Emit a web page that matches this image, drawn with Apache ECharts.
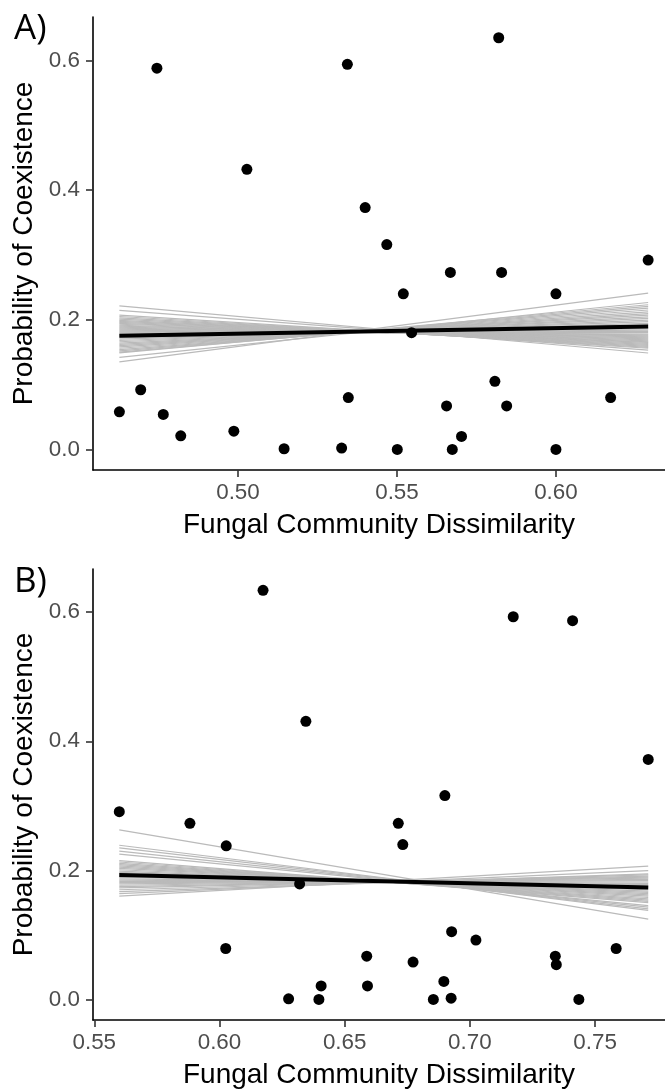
<!DOCTYPE html>
<html>
<head>
<meta charset="utf-8">
<script src="https://cdn.jsdelivr.net/npm/echarts@6/dist/echarts.min.js"></script>
<style>
  html, body { margin: 0; padding: 0; background: #ffffff; }
  #chart { width: 665px; height: 1090px; }
</style>
</head>
<body>
<div id="chart"></div>
<script>
// Panel A: dissimilarity vs probability of coexistence
const dissimA = [0.4627, 0.4694, 0.4745, 0.4765, 0.4820, 0.4987, 0.5028, 0.5145, 0.5326, 0.5344,
                 0.5347, 0.5400, 0.5468, 0.5501, 0.5520, 0.5546, 0.5656, 0.5668, 0.5674, 0.5703,
                 0.5808, 0.5820, 0.5829, 0.5845, 0.6000, 0.6000, 0.6172, 0.6290];
const coexA   = [0.058, 0.092, 0.588, 0.054, 0.021, 0.028, 0.432, 0.001, 0.002, 0.594,
                 0.080, 0.373, 0.316, 0.000, 0.240, 0.180, 0.067, 0.273, 0.000, 0.020,
                 0.105, 0.635, 0.273, 0.067, 0.240, 0.000, 0.080, 0.292];
// posterior draws for panel A: fitted value at the lowest and highest dissimilarity
const drawStartA = [0.2215, 0.2143, 0.2072, 0.2050, 0.2030, 0.2010, 0.1990, 0.1975, 0.1960, 0.1945,
                    0.1930, 0.1915, 0.1900, 0.1885, 0.1870, 0.1855, 0.1840, 0.1825, 0.1810, 0.1795,
                    0.1780, 0.1765, 0.1750, 0.1735, 0.1720, 0.1700, 0.1680, 0.1660, 0.1640, 0.1620,
                    0.1600, 0.1580, 0.1560, 0.1540, 0.1520, 0.1500, 0.1488, 0.1420, 0.1349];
const drawEndA   = [0.1487, 0.1530, 0.1560, 0.1575, 0.1590, 0.1605, 0.1620, 0.1635, 0.1650, 0.1660,
                    0.1675, 0.1690, 0.1705, 0.1720, 0.1735, 0.1750, 0.1765, 0.1780, 0.1800, 0.1820,
                    0.1840, 0.1860, 0.1880, 0.1900, 0.1920, 0.1945, 0.1970, 0.1995, 0.2020, 0.2045,
                    0.2070, 0.2095, 0.2120, 0.2150, 0.2180, 0.2205, 0.2231, 0.2266, 0.2410];
const meanFitA = [0.1754, 0.1897];

// Panel B
const dissimB = [0.5600, 0.5882, 0.6025, 0.6027, 0.6174, 0.6276, 0.6320, 0.6345, 0.6397, 0.6406,
                 0.6588, 0.6591, 0.6714, 0.6732, 0.6773, 0.6854, 0.6896, 0.6900, 0.6925, 0.6927,
                 0.7024, 0.7173, 0.7341, 0.7345, 0.7410, 0.7435, 0.7584, 0.7712];
const coexB   = [0.291, 0.273, 0.079, 0.238, 0.634, 0.001, 0.179, 0.431, 0.000, 0.021,
                 0.067, 0.021, 0.273, 0.240, 0.058, 0.000, 0.028, 0.316, 0.002, 0.105,
                 0.092, 0.593, 0.067, 0.054, 0.587, 0.000, 0.079, 0.372];
const drawStartB = [0.2627, 0.2390, 0.2350, 0.2300, 0.2253, 0.2150, 0.2130, 0.2110, 0.2090, 0.2070,
                    0.2050, 0.2030, 0.2010, 0.1990, 0.1970, 0.1950, 0.1930, 0.1910, 0.1890, 0.1870,
                    0.1850, 0.1830, 0.1810, 0.1790, 0.1770, 0.1750, 0.1730, 0.1700, 0.1670, 0.1640,
                    0.1600];
const drawEndB   = [0.1244, 0.1380, 0.1405, 0.1430, 0.1455, 0.1500, 0.1520, 0.1540, 0.1560, 0.1580,
                    0.1600, 0.1620, 0.1640, 0.1660, 0.1680, 0.1700, 0.1720, 0.1740, 0.1760, 0.1780,
                    0.1800, 0.1820, 0.1840, 0.1860, 0.1880, 0.1895, 0.1910, 0.1930, 0.1946, 0.1997,
                    0.2065];
const meanFitB = [0.1930, 0.1736];

// axis ticks
const ticksXA = [0.50, 0.55, 0.60];
const ticksXB = [0.55, 0.60, 0.65, 0.70, 0.75];
const ticksY  = [0.0, 0.2, 0.4, 0.6];

const FONT = '"Liberation Sans", Helvetica, Arial, sans-serif';
const GRAY = '#bababa';

function xAxisFor(gridIndex, min, max, ticks) {
  return {
    type: 'value', gridIndex, min, max,
    name: 'Fungal Community Dissimilarity',
    nameLocation: 'middle', nameGap: 41,
    nameTextStyle: { color: '#000', fontSize: 28, fontFamily: FONT },
    splitLine: { show: false },
    axisLine: { show: true, onZero: false, lineStyle: { color: '#000', width: 1.6 } },
    axisTick: { show: true, customValues: ticks, length: 7, lineStyle: { color: '#333', width: 1.6 } },
    axisLabel: { customValues: ticks, formatter: v => v.toFixed(2), color: '#4d4d4d',
                 fontSize: 22.4, fontFamily: FONT, margin: 12 }
  };
}
function yAxisFor(gridIndex) {
  return {
    type: 'value', gridIndex, min: -0.0318, max: 0.667,
    name: 'Probability of Coexistence',
    nameLocation: 'middle', nameGap: 44, nameRotate: 90,
    nameTextStyle: { color: '#000', fontSize: 28, fontFamily: FONT },
    splitLine: { show: false },
    axisLine: { show: true, onZero: false, lineStyle: { color: '#000', width: 1.6 } },
    axisTick: { show: true, customValues: ticksY, length: 7, lineStyle: { color: '#333', width: 1.6 } },
    axisLabel: { customValues: ticksY, formatter: v => v.toFixed(1), color: '#4d4d4d',
                 fontSize: 22.4, fontFamily: FONT, margin: 13 }
  };
}

function panelSeries(idx, xs, ys, starts, ends, fit) {
  const x0 = Math.min(...xs), x1 = Math.max(...xs);
  const out = [];
  starts.forEach((s, i) => {
    out.push({
      type: 'line', xAxisIndex: idx, yAxisIndex: idx, symbol: 'none', silent: true,
      lineStyle: { color: GRAY, width: 1.2 }, z: 2,
      data: [[x0, s], [x1, ends[i]]]
    });
  });
  out.push({
    type: 'line', xAxisIndex: idx, yAxisIndex: idx, symbol: 'none', silent: true,
    lineStyle: { color: '#000', width: 4 }, z: 3,
    data: [[x0, fit[0]], [x1, fit[1]]]
  });
  out.push({
    type: 'scatter', xAxisIndex: idx, yAxisIndex: idx, symbolSize: 11, z: 4,
    itemStyle: { color: '#000', opacity: 1 },
    data: xs.map((x, i) => [x, ys[i]])
  });
  return out;
}

const chart = echarts.init(document.getElementById('chart'), null, { renderer: 'canvas' });
chart.setOption({
  backgroundColor: '#ffffff',
  animation: false,
  grid: [
    { left: 93, right: 0, top: 17, height: 453 },
    { left: 93, right: 0, top: 569, height: 452 }
  ],
  xAxis: [xAxisFor(0, 0.4544, 0.6343, ticksXA), xAxisFor(1, 0.5495, 0.7779, ticksXB)],
  yAxis: [yAxisFor(0), yAxisFor(1)],
  graphic: [
    { type: 'text', left: 14, top: 12, style: { text: 'A)', fontSize: 35, fontFamily: '"Open Sans", sans-serif', fill: '#000' } },
    { type: 'text', left: 14, top: 565, style: { text: 'B)', fontSize: 35, fontFamily: '"Open Sans", sans-serif', fill: '#000' } }
  ],
  series: [
    ...panelSeries(0, dissimA, coexA, drawStartA, drawEndA, meanFitA),
    ...panelSeries(1, dissimB, coexB, drawStartB, drawEndB, meanFitB)
  ]
});
</script>
</body>
</html>
